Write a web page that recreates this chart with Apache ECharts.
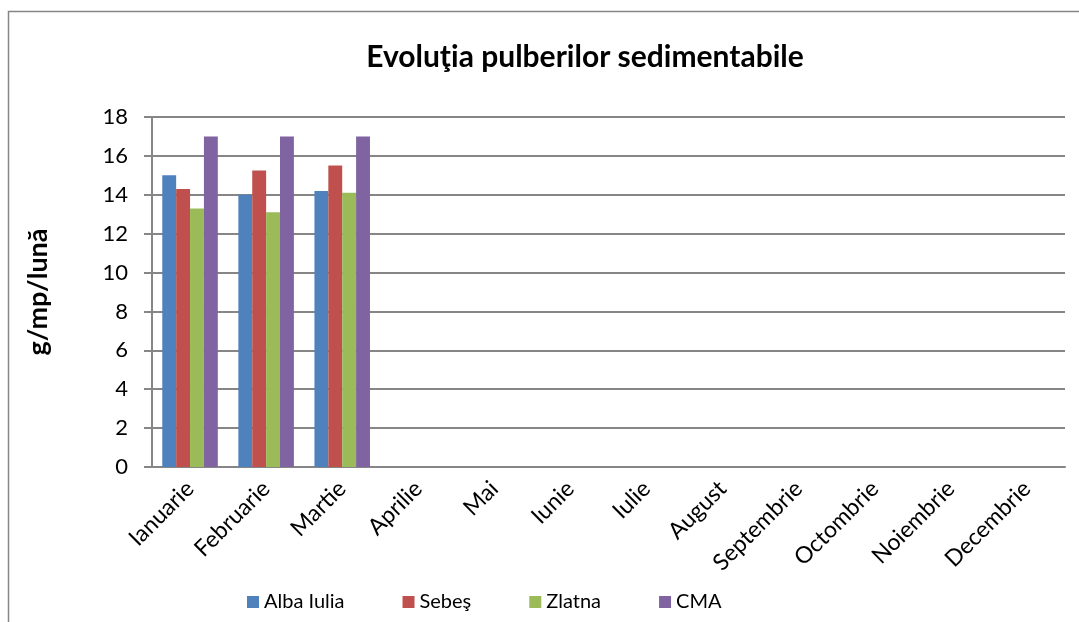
<!DOCTYPE html>
<html>
<head>
<meta charset="utf-8">
<script src="https://cdn.jsdelivr.net/npm/echarts@6/dist/echarts.min.js"></script>
<style>
  html, body { margin: 0; padding: 0; background: #fff; }
  #chart { width: 1079px; height: 622px; }
</style>
</head>
<body>
<div id="chart"></div>
<script>
// date
var luni = ["Ianuarie", "Februarie", "Martie", "Aprilie", "Mai", "Iunie", "Iulie",
    "August", "Septembrie", "Octombrie", "Noiembrie", "Decembrie"];
var albaIulia = [15.0, 14.0, 14.2];
var sebes = [14.3, 15.25, 15.5];
var zlatna = [13.3, 13.1, 14.1];
var cma = [17, 17, 17];

(function () {
    var myChart = echarts.init(document.getElementById("chart"));
    var font = "Lato, 'Open Sans', sans-serif";
    var gri = "#868686";

    function serie(nume, date) {
        return {
            name: nume,
            type: "bar",
            data: date,
            barGap: "0%",
            barCategoryGap: "27%"
        };
    }

    var option = {
        color: ["#4F81BD", "#C0504D", "#9BBB59", "#8064A2"],
        textStyle: { fontFamily: font },
        // chenar exterior
        graphic: [{
            type: "rect",
            shape: { x: 8.5, y: 11.5, width: 1200, height: 800 },
            style: { fill: "none", stroke: gri, lineWidth: 1.5 },
            silent: true
        }],
        title: {
            text: "Evoluţia pulberilor sedimentabile",
            left: 580,
            textAlign: "center",
            top: 37,
            textStyle: { fontFamily: font, fontSize: 30, fontWeight: "bold", color: "#000" }
        },
        legend: {
            left: 242,
            top: 587,
            itemWidth: 12,
            itemHeight: 12,
            itemGap: 58,
            icon: "rect",
            textStyle: { fontFamily: font, fontSize: 20, color: "#000" },
            data: ["Alba Iulia", "Sebeş", "Zlatna", "CMA"]
        },
        grid: {
            left: 152,
            right: 14,
            top: 117,
            bottom: 155,
            containLabel: false
        },
        xAxis: {
            type: "category",
            data: luni,
            axisLine: { lineStyle: { color: gri, width: 2 } },
            axisTick: { length: 8, lineStyle: { color: gri, width: 2 } },
            axisLabel: {
                rotate: 45,
                interval: 0,
                margin: 18,
                fontFamily: font,
                fontSize: 23,
                color: "#000"
            }
        },
        yAxis: {
            type: "value",
            min: 0,
            max: 18,
            interval: 2,
            name: "g/mp/lună",
            nameLocation: "middle",
            nameGap: 100,
            nameRotate: 90,
            nameTextStyle: { fontFamily: font, fontSize: 27, fontWeight: "bold", color: "#000" },
            axisLine: { show: true, lineStyle: { color: gri, width: 2 } },
            axisTick: { show: true, length: 8, lineStyle: { color: gri, width: 2 } },
            splitLine: { lineStyle: { color: gri, width: 2 } },
            axisLabel: {
                margin: 24,
                fontFamily: font,
                fontSize: 22,
                color: "#000"
            }
        },
        series: [
            serie("Alba Iulia", albaIulia),
            serie("Sebeş", sebes),
            serie("Zlatna", zlatna),
            serie("CMA", cma)
        ]
    };
    myChart.setOption(option);
})();
</script>
</body>
</html>
